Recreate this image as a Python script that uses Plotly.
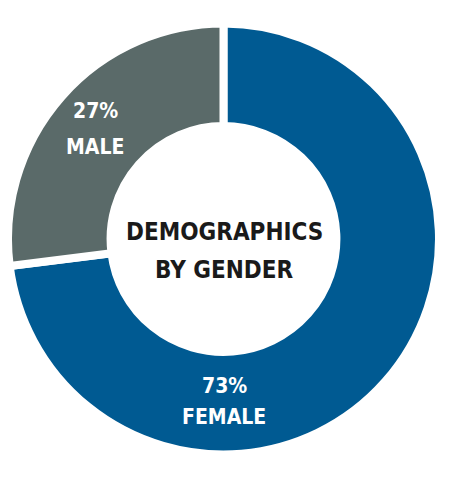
import plotly.graph_objects as go

labels = ["FEMALE", "MALE"]
values = [73, 27]
colors = ["#005a92", "#5a6a69"]
center_title = ["DEMOGRAPHICS", "BY GENDER"]

FONT = "DejaVu Sans Condensed, Liberation Sans Narrow, sans-serif"

# figure is slightly smaller than the window: the page body adds an 8px margin
W, H = 442, 470

fig = go.Figure(go.Pie(
    labels=labels,
    values=values,
    hole=0.524,
    sort=False,
    direction="clockwise",
    rotation=0,
    marker=dict(colors=colors, line=dict(color="white", width=8)),
    textinfo="none",
    hoverinfo="label+percent",
    showlegend=False,
    domain=dict(x=[0.0, 0.9751], y=[0.049, 0.968]),
))

def px(x, y):
    return x / W, 1 - y / H

# slice label positions (figure pixels): line 1 / line 2 centres
label_pos = {"MALE": ((87, 103), (87, 139)), "FEMALE": ((216, 378), (216, 409))}
for lab, val in zip(labels, values):
    (x1, y1), (x2, y2) = label_pos[lab]
    for (x, y), txt in (((x1, y1), f"{val}%"), ((x2, y2), lab)):
        ax, ay = px(x, y)
        fig.add_annotation(
            x=ax, y=ay, xref="paper", yref="paper", xanchor="center", yanchor="middle",
            text=txt, showarrow=False,
            font=dict(family=FONT, size=21, color="white", weight="bold"),
        )

for (x, y), txt in zip(((216, 224), (216, 262)), center_title):
    ax, ay = px(x, y)
    fig.add_annotation(
        x=ax, y=ay, xref="paper", yref="paper", xanchor="center", yanchor="middle",
        text=txt, showarrow=False,
        font=dict(family=FONT, size=24, color="#1a1a1a", weight="bold"),
    )

fig.update_layout(
    width=W, height=H,
    margin=dict(l=0, r=0, t=0, b=0),
    paper_bgcolor="white",
    plot_bgcolor="white",
)

fig.write_html("out.html")
